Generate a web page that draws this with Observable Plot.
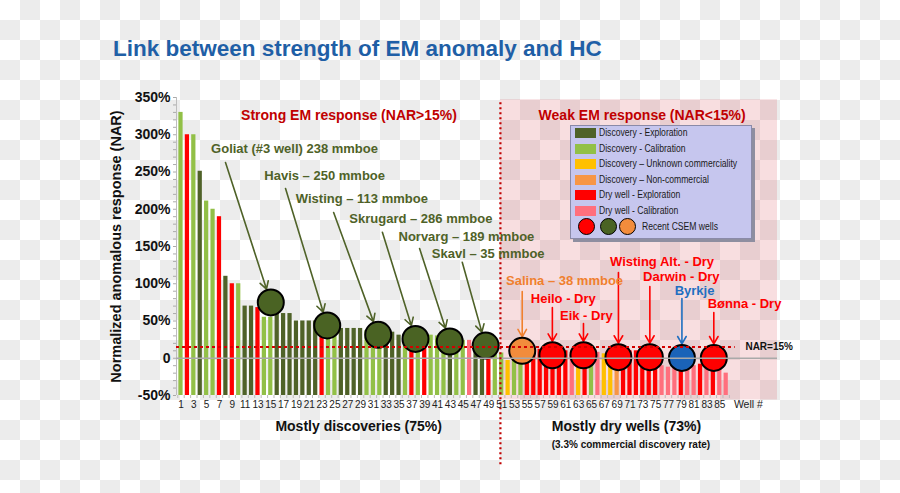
<!DOCTYPE html>
<html><head><meta charset="utf-8">
<script src="https://cdn.jsdelivr.net/npm/d3@7"></script>
<script src="https://cdn.jsdelivr.net/npm/@observablehq/plot@0.6"></script>
<style>
html,body{margin:0;padding:0;}
body{width:900px;height:493px;overflow:hidden;position:relative;font-family:"Liberation Sans",Arial,sans-serif;
 background-color:#fff;background-image:repeating-conic-gradient(#ececec 0% 25%, #ffffff 0% 50%);background-size:40px 40px;}
#chart{position:absolute;left:0;top:0;}
#title{position:absolute;left:113px;top:36px;font-size:22.5px;font-weight:bold;color:#1f5fa6;white-space:nowrap;}
#legend{position:absolute;left:570px;top:125px;width:180px;height:112px;background:#c6c6ee;border:1px solid #8a8aa8;box-shadow:3px 3px 0 #8e8ea0;}
#legend .sw{position:absolute;left:4px;width:21px;height:10px;}
#legend .tx{position:absolute;left:28px;font-size:10px;color:#1a1a1a;white-space:nowrap;line-height:12px;transform:scaleX(0.86);transform-origin:0 50%;}
#legend .dot{position:absolute;width:15px;height:15px;border-radius:50%;border:1.5px solid #000;}
</style></head><body>
<div id="chart"></div>
<div id="title">Link between strength of EM anomaly and HC</div>
<div id="legend"></div>
<script>
// ---- categories ----
const catCodes  = ["DE", "DC", "DU", "DN", "XE", "XC"];
const catNames  = ["Discovery - Exploration", "Discovery - Calibration", "Discovery \u2013 Unknown  commerciality",
                   "Discovery \u2013 Non-commercial", "Dry well - Exploration", "Dry well - Calibration"];
const catColors = ["#4f6228", "#92c047", "#ffc000", "#f79646", "#ff0000", "#ff6f7d"];

// ---- well NAR values (%), wells 1..86 ----
const nar = [330, 300, 300, 251, 211, 200, 190, 110, 100, 100,
             70, 70, 68, 55, 55, 60, 60, 60, 50, 50,
             50, 50, 45, 42, 40, 40, 40, 40, 40, 37,
             37, 37, 35, 35, 31, 30, 30, 30, 30, 31,
             30, 28, 26, 25, 24, 24, 22, 20, 18, 16,
             7, -3, 8, 8, 10, 12, 12, 10, 10, 12,
             10, 8, 5, 8, 5, 8, 6, 4, 3, 8,
             10, 10, 8, 6, 4, -10, -12, -8, -5, -12,
             -10, -8, -12, -10, -14, -20];
const wellCat = ["DC","XE","DC","DE","DC","DC","XE","DE","XE","DC",
                 "DE","DE","XE","DC","DC","DE","DE","DE","DE","DE",
                 "DE","DE","XE","DC","DC","DE","DE","DE","DE","DC",
                 "DC","DC","DE","DE","DE","DC","XE","DC","XE","DC",
                 "DC","DC","DE","DC","DC","XC","DE","DE","XE","DC",
                 "DC","DU","DC","DC","XE","XE","XE","XE","XE","XE",
                 "XE","XC","DU","XE","DC","XC","DU","DU","DN","XE",
                 "XE","XE","XE","XE","XE","XC","XC","XC","XE","XC",
                 "XC","XE","XC","XE","XC","XC"];

// ---- recent CSEM wells ----
const recentLabel = ["Goliat (#3 well) 238 mmboe", "Havis \u2013 250 mmboe", "Wisting \u2013 113 mmboe",
                     "Skrugard \u2013 286 mmboe", "Norvarg \u2013 189 mmboe", "Skavl \u2013 35 mmboe",
                     "Salina \u2013 38 mmboe", "Heilo - Dry", "Eik - Dry", "Wisting Alt. - Dry",
                     "Darwin - Dry", "Byrkje", "B\u00f8nna - Dry"];
const recentWell  = [15, 23.8, 31.75, 37.56, 42.9, 48.5, 54.2, 58.9, 63.75, 69.2, 74.1, 79.1, 84.07];
const recentNar   = [75, 44, 31.5, 26, 22.5, 17, 10, 4, 4, 1.5, 1.5, 0.5, 0.5];
const recentKind  = ["green","green","green","green","green","green","orange","red","red","red","red","blue","red"];

// ---- tick labels ----
const yTicks = [-50, 0, 50, 100, 150, 200, 250, 300, 350];
const xTicks = d3.range(1, 86, 2);

// ---- layout / styling (annotation placement, not data) ----
const kindFill = {green: "#4a6323", orange: "#f28c3c", red: "#ff0000", blue: "#1a63b8"};
const kindText = {green: "#4f6228", orange: "#f0802e", red: "#ff0000", blue: "#1f6fc1"};
const labelPos = [[18.7,281],[23.4,245],[29.2,214],[38.4,187],[45.5,162.5],[48.9,140],
                  [60.8,104],[60.6,80],[64.2,57.4],[76,129],[79,109],[81.06,91],[88.86,73]];
const arrowFrom = [[7.94,262.8],[17.3,227.9],[24.8,195.6],[32.4,169.2],[38.2,147.3],[44.85,128.9],
                   [54.2,89.6],[58.9,68],[63.75,46.6],[69.2,115],[74.1,96.3],[79.1,80.2],[84.07,61.4]];
const SPLIT = 50.8, XMIN = 0.3, XMAX = 94;

const colorOf = Object.fromEntries(catCodes.map((c, i) => [c, catColors[i]]));
const wells = nar.map((v, i) => ({well: i + 1, nar: v, cat: wellCat[i]}));
const recent = recentLabel.map((t, i) => ({
  label: t, well: recentWell[i], nar: recentNar[i], kind: recentKind[i],
  lx: labelPos[i][0], ly: labelPos[i][1], ax: arrowFrom[i][0], ay: arrowFrom[i][1]
}));

const FONT = "Liberation Sans, Arial, sans-serif";

const chart = Plot.plot({
  width: 900, height: 493,
  marginLeft: 176, marginRight: 123, marginTop: 97, marginBottom: 98,
  style: {background: "transparent", fontFamily: FONT, overflow: "visible"},
  x: {type: "linear", domain: [XMIN, XMAX], axis: null},
  y: {type: "linear", domain: [-50, 350], axis: null},
  marks: [
    Plot.rect([0], {x1: SPLIT, x2: XMAX, y1: -56, y2: 347, fill: "#d43a4a", fillOpacity: 0.17}),
    Plot.ruleX([XMIN], {stroke: "#bdbdbd", strokeWidth: 1}),
    Plot.axisY({ticks: d3.range(-50, 351, 10), tickSize: 3, tickFormat: () => "", stroke: "#aaa", label: null}),
    Plot.axisX({ticks: d3.range(0.5, 87, 1), tickSize: 3, tickFormat: () => "", stroke: "#bbb", label: null}),
    Plot.rect(wells, {x1: d => d.well - 0.33, x2: d => d.well + 0.33, y1: -50, y2: "nar",
                      fill: d => colorOf[d.cat]}),
    Plot.arrow(recent, {x1: "ax", y1: "ay", x2: "well", y2: "nar", stroke: d => kindText[d.kind],
                        strokeWidth: 1.6, headLength: 8, insetEnd: 14}),
    Plot.dot(recent, {x: "well", y: "nar", r: 13, fill: d => kindFill[d.kind], stroke: "#000", strokeWidth: 2}),
    Plot.ruleY([0], {x1: XMIN, x2: XMAX, stroke: "#a9a9a9", strokeWidth: 1.5}),
    Plot.ruleY([15], {x1: XMIN, x2: 87.4, stroke: "#d40000", strokeWidth: 2, strokeDasharray: "3,3"}),
    Plot.text(["NAR=15%"], {x: 89, y: 15, textAnchor: "start", fontSize: 10, fontWeight: "bold", fill: "#111"}),
    Plot.ruleX([SPLIT], {y1: -143, y2: 346, stroke: "#c00000", strokeWidth: 2.2, strokeDasharray: "2,3"}),
    Plot.text(recent, {x: "lx", y: "ly", text: "label", fill: d => kindText[d.kind],
                       fontSize: 13, fontWeight: "bold"}),
    Plot.text(["Strong EM response (NAR>15%)"], {x: 27.2, y: 326, fontSize: 14, fontWeight: "bold", fill: "#c00000"}),
    Plot.text(["Weak EM response (NAR<15%)"], {x: 72.9, y: 326, fontSize: 14, fontWeight: "bold", fill: "#c00000"}),
    Plot.text(yTicks, {y: d => d, frameAnchor: "left", dx: -6, textAnchor: "end",
                       text: d => d === 0 ? "0" : d + "%", fontSize: 14, fontWeight: "bold", fill: "#111"}),
    Plot.text(["Normalized anomalous response (NAR)"], {frameAnchor: "left", dx: -60, rotate: -90, textAnchor: "middle",
                       fontSize: 14.5, fontWeight: "bold", fill: "#111"}),
    Plot.text(xTicks, {x: d => d, frameAnchor: "bottom", dy: 12, text: d => String(d),
                       fontSize: 10, fill: "#222"}),
    Plot.text(["Well #"], {x: 87.2, frameAnchor: "bottom", dy: 12, textAnchor: "start",
                       fontSize: 10.5, fill: "#222"}),
    Plot.text(["Mostly discoveries (75%)"], {x: 28.7, frameAnchor: "bottom", dy: 35, fontSize: 14, fontWeight: "bold", fill: "#111"}),
    Plot.text(["Mostly dry wells (73%)"], {x: 58.8, frameAnchor: "bottom", dy: 35, textAnchor: "start", fontSize: 14, fontWeight: "bold", fill: "#111"}),
    Plot.text(["(3.3% commercial discovery rate)"], {x: 58.8, frameAnchor: "bottom", dy: 52, textAnchor: "start", fontSize: 10, fontWeight: "bold", fill: "#111"})
  ]
});
document.getElementById("chart").appendChild(chart);

// ---- legend ----
const lg = document.getElementById("legend");
catNames.forEach((name, i) => {
  const cy = 7 + i * 15.6;
  const sw = document.createElement("div");
  sw.className = "sw"; sw.style.top = (cy - 5) + "px"; sw.style.background = catColors[i];
  lg.appendChild(sw);
  const tx = document.createElement("div");
  tx.className = "tx"; tx.style.top = (cy - 6) + "px"; tx.textContent = name;
  lg.appendChild(tx);
});
const legendDots = ["red", "green", "orange"];
const dotX = [15.7, 38.3, 57.3];
legendDots.forEach((k, i) => {
  const d = document.createElement("div");
  d.className = "dot"; d.style.background = kindFill[k];
  d.style.left = (dotX[i] - 9) + "px"; d.style.top = (7 + 6 * 15.6 - 9) + "px";
  lg.appendChild(d);
});
const rt = document.createElement("div");
rt.className = "tx"; rt.style.left = "71px"; rt.style.top = (7 + 6 * 15.6 - 6) + "px";
rt.textContent = "Recent CSEM wells";
lg.appendChild(rt);
</script>
</body></html>
